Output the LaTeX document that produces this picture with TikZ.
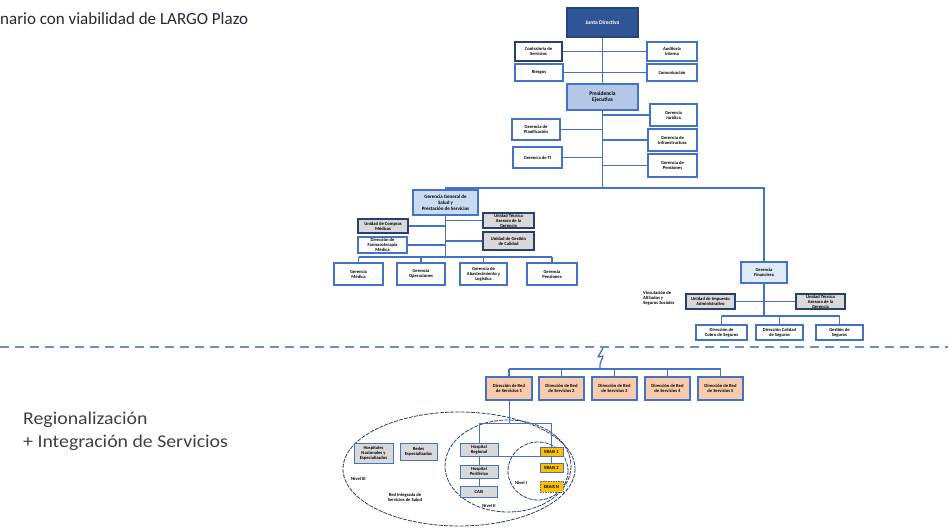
\documentclass[tikz,border=0pt]{standalone}
\usepackage{fontspec}
\setmainfont{Carlito}
\newfontfamily\notefont[FakeStretch=1.1]{Carlito}
\definecolor{lineblue}{HTML}{4472C4}
\definecolor{dashblue}{HTML}{6A8FD2}
\definecolor{navy}{HTML}{2F5597}
\definecolor{darknavy}{HTML}{2B3F6E}
\definecolor{paleblue}{HTML}{B4C7E7}
\definecolor{lightblue}{HTML}{C9DCF2}
\definecolor{iceblue}{HTML}{DEEBF7}
\definecolor{greyfill}{HTML}{D9D9D9}
\definecolor{peach}{HTML}{F8CBAD}
\definecolor{gold}{HTML}{FFC000}
\definecolor{titleink}{HTML}{2A2438}
\definecolor{noteink}{HTML}{404040}

\tikzset{
  orgbox/.style={draw=lineblue, line width=1.3pt, fill=white, inner sep=0.4pt,
    align=center, text=black, font=\fontsize{4.6}{5.1}\selectfont\bfseries},
  keybox/.style={orgbox, fill=navy, draw=navy!80!black, text=white,
    font=\fontsize{5.5}{6.5}\selectfont\bfseries},
  headbox/.style={orgbox, fill=paleblue, font=\fontsize{5.5}{6.5}\selectfont\bfseries},
  subhead/.style={orgbox, fill=lightblue, font=\fontsize{5}{6}\selectfont\bfseries},
  finbox/.style={orgbox, fill=iceblue},
  staffbox/.style={orgbox, draw=darknavy},
  unitbox/.style={orgbox, draw=darknavy, fill=greyfill},
  regionbox/.style={orgbox, fill=peach},
  carebox/.style={orgbox, fill=greyfill, line width=1pt},
  ebaisbox/.style={orgbox, fill=gold, line width=1pt},
  link/.style={draw=lineblue, line width=1.5pt},
  thinlink/.style={draw=lineblue, line width=1pt},
  zone/.style={draw=darknavy, line width=0.8pt, dash pattern=on 4pt off 1.2pt},
  tag/.style={font=\fontsize{4.6}{5.1}\selectfont\bfseries, text=black, inner sep=0pt},
  note/.style={anchor=base west, inner sep=0, text=noteink, font=\notefont\fontsize{18}{21}\selectfont},
}

\begin{document}
\begin{tikzpicture}[x=1pt, y=-1pt]
\useasboundingbox (0,0) rectangle (948,528);

% ---- headings
\node[anchor=base west, inner sep=0, text=titleink, font=\fontsize{17}{20}\selectfont] (title) at (0,24) {nario con viabilidad de LARGO Plazo};
\node[note] (reg1) at (23,424) {Regionalización};
\node[note] (reg2) at (23,447) {+ Integración de Servicios};

% ---- board and executive presidency
\node[keybox, minimum width=71, minimum height=29] (jd) at (602.5,22.5) {Junta Directiva};
\node[staffbox, minimum width=47, minimum height=19] (sec) at (538.5,51.5) {Contraloría de\\Servicios};
\node[orgbox, minimum width=48, minimum height=17] (rsg) at (539,72.5) {Riesgos};
\node[orgbox, minimum width=50, minimum height=19] (aud) at (672,51.5) {Auditoría\\Interna};
\node[orgbox, minimum width=50, minimum height=17] (com) at (672,72.5) {Comunicación};
\node[headbox, minimum width=71, minimum height=26] (pe) at (602.5,97) {Presidencia\\Ejecutiva};

\node[orgbox, minimum width=47, minimum height=22] (gj) at (673.5,115) {Gerencia\\Jurídica};
\node[orgbox, minimum width=49, minimum height=22] (gi) at (672.5,140) {Gerencia de\\Infraestructura};
\node[orgbox, minimum width=49, minimum height=23] (gp) at (672.5,165.5) {Gerencia de\\Pensiones};
\node[orgbox, minimum width=48, minimum height=21] (gpl) at (536,129.5) {Gerencia de\\Planificación};
\node[orgbox, minimum width=49, minimum height=21] (gti) at (537.5,157.5) {Gerencia de TI};

\coordinate (hub) at (602.5,188);
\draw[link] (jd.south) -- (pe.north);
\draw[link] (pe.south) -- (hub);
\draw[link] (sec.east) -- (aud.west);
\draw[link] (rsg.east) -- (com.west);
\draw[link] (gpl.east) -- (gpl.east -| hub);
\draw[link] (gti.east) -- (gti.east -| hub);
\draw[link] (gj.west) -- (gj.west -| hub);
\draw[link] (gi.west) -- (gi.west -| hub);
\draw[link] (gp.west) -- (gp.west -| hub);

% ---- health management branch
\node[subhead, minimum width=65, minimum height=25] (gg) at (445.5,202.5) {Gerencia General de\\Salud y\\Prestación de Servicios};
\node[unitbox, minimum width=50, minimum height=14] (u1) at (383,226) {Unidad de Compras\\Médicas};
\node[orgbox, minimum width=49, minimum height=16] (d1) at (382.5,245) {Dirección de\\Farmacoterapia\\Médica};
\node[unitbox, minimum width=51, minimum height=15] (u2) at (508.5,220.5) {Unidad Técnica\\Asesora de la\\Gerencia};
\node[unitbox, minimum width=51, minimum height=18] (u3) at (508.5,241) {Unidad de Gestión\\de Calidad};

\node[orgbox, minimum width=49, minimum height=22] (gm) at (358.5,274) {Gerencia\\Médica};
\node[orgbox, minimum width=48, minimum height=22] (go) at (421,274) {Gerencia\\Operaciones};
\node[orgbox, minimum width=47, minimum height=22] (ga) at (483.5,274) {Gerencia de\\Abastecimiento y\\Logística};
\node[orgbox, minimum width=50, minimum height=22] (gpe) at (552,274) {Gerencia\\Pensiones};

\coordinate (ggbar) at (446,257);
\draw[link] (gg.north) |- (hub);
\draw[link] (gg.south) -- (gg.south |- ggbar);
\draw[link] (u1.east) -- (u1.east -| gg.south);
\draw[link] (d1.east) -- (d1.east -| gg.south);
\draw[link] (u2.west) -- (u2.west -| gg.south);
\draw[link] (u3.west) -- (u3.west -| gg.south);
\draw[link] (gm.north |- ggbar) -- (gpe.north |- ggbar);
\foreach \n in {gm,go,ga,gpe} \draw[link] (\n.north) -- (\n.north |- ggbar);

% ---- finance branch
\node[finbox, minimum width=46, minimum height=21] (gf) at (764,272.5) {Gerencia\\Financiera};
\node[unitbox, minimum width=49, minimum height=15] (f1) at (710.5,301.5) {Unidad de Impuesto\\Administrativo};
\node[unitbox, minimum width=49, minimum height=15] (f2) at (820.5,301.5) {Unidad Técnica\\Asesora de la\\Gerencia};
\node[tag, anchor=west, align=left] (vinc) at (643,298.5) {Vinculación de\\Afiliados y\\Seguros Sociales};
\node[orgbox, minimum width=51, minimum height=15] (b1) at (721.5,332.5) {Dirección de\\Cobro de Seguros};
\node[orgbox, minimum width=47, minimum height=15] (b2) at (779.5,332.5) {Dirección Calidad\\de Seguros};
\node[orgbox, minimum width=47, minimum height=15] (b3) at (839.5,332.5) {Gestión de\\Seguros};

\coordinate (finbar) at (764,316);
\draw[link] (hub) -| (gf.north);
\draw[link] (gf.south) -- (finbar);
\draw[link] (f1.east) -- (f2.west);
\draw[link] (b1.north |- finbar) -- (b3.north |- finbar);
\foreach \n in {b1,b2,b3} \draw[link] (\n.north) -- (\n.north |- finbar);

% ---- horizon divider
\coordinate (divL) at (0,347);
\coordinate (divR) at (948,347);
\draw[dashblue, line width=1.5pt, dash pattern=on 9pt off 6pt] (divL) -- (divR);

% ---- regional service networks
\node[regionbox, minimum width=46, minimum height=23] (p1) at (509,388.5) {Dirección de Red\\de Servicios 1};
\node[regionbox, minimum width=45, minimum height=23] (p2) at (561.5,388.5) {Dirección de Red\\de Servicios 2};
\node[regionbox, minimum width=45, minimum height=23] (p3) at (614.5,388.5) {Dirección de Red\\de Servicios 3};
\node[regionbox, minimum width=45, minimum height=23] (p4) at (667.5,388.5) {Dirección de Red\\de Servicios 4};
\node[regionbox, minimum width=45, minimum height=23] (p5) at (720.5,388.5) {Dirección de Red\\de Servicios 5};

\coordinate (bolt) at (603,348);
\coordinate (regbar) at (600,369);
\draw[lineblue, line width=1.3pt, line join=bevel] (bolt) -- ++(-5,9) -- ++(5,-1) -- ++(-3,8) -- (regbar);
\draw[link] (p1.north |- regbar) -- (p5.north |- regbar);
\foreach \n in {p1,p2,p3,p4,p5} \draw[link] (\n.north) -- (\n.north |- regbar);

% ---- integrated network of care levels
\coordinate (bigc) at (459,469);
\coordinate (midc) at (508,466);
\coordinate (smallc) at (538,471);
\draw[zone] (bigc) ellipse [x radius=116, y radius=57];
\draw[zone] (midc) ellipse [x radius=63, y radius=46];
\draw[zone] (smallc) ellipse [x radius=30, y radius=29];

\node[carebox, minimum width=39, minimum height=20] (hn) at (373.5,453) {Hospitales\\Nacionales y\\Especializados};
\node[carebox, minimum width=37, minimum height=17] (re) at (418.5,451.5) {Redes\\Especializadas};
\node[carebox, minimum width=38, minimum height=13] (hr) at (479,449.5) {Hospital\\Regional};
\node[carebox, minimum width=38, minimum height=13] (hp) at (479,471.5) {Hospital\\Periférico};
\node[carebox, minimum width=37, minimum height=11] (cais) at (479,492) {CAIS};
\node[ebaisbox, minimum width=23, minimum height=9] (y1) at (551.5,451.5) {EBAIS 1};
\node[ebaisbox, minimum width=23, minimum height=9] (y2) at (551.5,467.5) {EBAIS 2};
\node[ebaisbox, minimum width=23, minimum height=11, dash pattern=on 1.5pt off 1pt] (y3) at (551.5,486.5) {EBAIS N};

\coordinate (carebar) at (509,423);
\draw[thinlink] (p1.south) -- (carebar);
\draw[thinlink] (hr.north |- carebar) -- (y1.north |- carebar);
\draw[thinlink] (hr.north |- carebar) -- (hr.north);
\draw[thinlink] (y1.north |- carebar) -- (y1.north);
\draw[thinlink] (hr.south east) -- (y1.south west);
\draw[thinlink] (hr.south) -- (hp.north);
\draw[thinlink] (hp.south) -- (cais.north);
\draw[thinlink] (y1.south) -- (y2.north);

\node[tag, anchor=west] (n3) at (351,478.5) {Nivel III};
\node[tag, align=center] (ris) at (405,497.5) {Red Integrada de\\Servicios de Salud};
\node[tag] (n2) at (489,506) {Nivel II};
\node[tag] (n1) at (521,483) {Nivel I};
\end{tikzpicture}
\end{document}
